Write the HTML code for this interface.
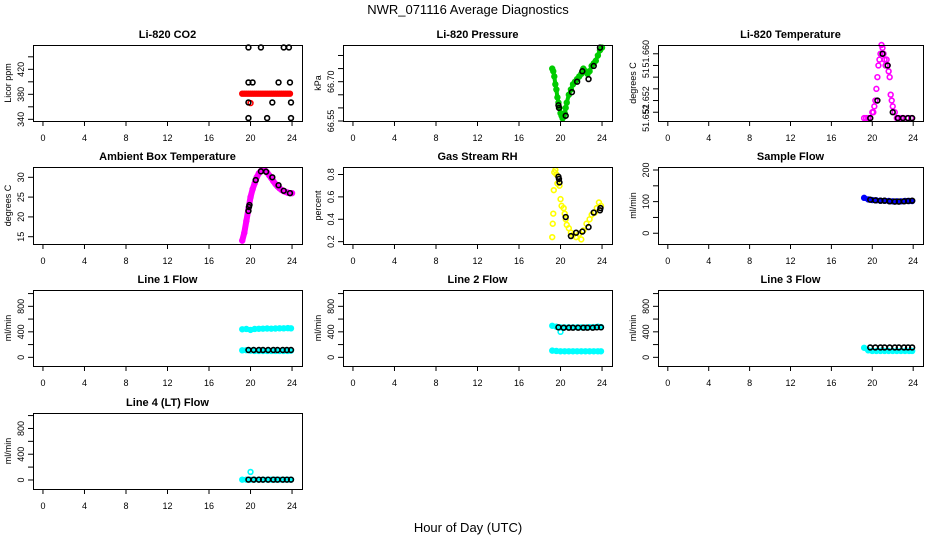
<!DOCTYPE html>
<html><head><meta charset="utf-8"><style>
html,body{margin:0;padding:0;background:#fff}
svg{display:block;font-family:"Liberation Sans",Arial,sans-serif}
</style></head><body>
<svg id="chart" width="936" height="540" viewBox="0 0 936 540" xmlns="http://www.w3.org/2000/svg">
<text x="468" y="14" text-anchor="middle" font-size="13">NWR_071116  Average Diagnostics</text>
<text x="468" y="532" text-anchor="middle" font-size="13">Hour of Day (UTC)</text>
</svg>
<script>
const xTicks = [0,4,8,12,16,20,24];
// CO2
const co2Hours = [19.2,19.4,19.6,19.8,20.0,20.2,20.4,20.6,20.8,21.0,21.2,21.4,21.6,21.8,22.0,22.2,22.4,22.6,22.8,23.0,23.2,23.4,23.6,23.8];
const co2Values = [381,381,381,381,381,381,381,381,381,381,381,381,381,381,381,381,381,381,381,381,381,381,381,381];
const co2OutHours = [20.0];
const co2OutValues = [366];
const co2BlackHours = [19.8,21.0,23.2,23.7,19.8,20.2,22.7,23.8,19.8,22.1,23.9,19.8,21.6,23.9];
const co2BlackValues = [455,455,455,455,399,399,399,399,367,367,367,342,342,342];
// Pressure
const presHours = [19.2,19.3,19.4,19.5,19.6,19.7,19.8,19.9,20.0,20.1,20.2,20.3,20.4,20.5,20.6,20.8,21.0,21.2,21.4,21.6,21.8,22.0,22.2,22.4,22.6,22.8,23.0,23.2,23.4,23.6,23.8,24.0];
const presValues = [66.75,66.74,66.72,66.69,66.67,66.64,66.62,66.60,66.58,66.57,66.56,66.57,66.58,66.60,66.62,66.65,66.67,66.69,66.70,66.71,66.72,66.73,66.75,66.74,66.73,66.74,66.76,66.77,66.78,66.80,66.82,66.83];
const presBlackHours = [19.8,19.85,20.5,21.1,21.6,22.1,22.7,23.2,23.8];
const presBlackValues = [66.61,66.60,66.57,66.66,66.70,66.74,66.71,66.76,66.83];
// Li-820 temperature
const tempHours = [19.2,19.4,19.6,19.8,20.0,20.1,20.2,20.3,20.4,20.5,20.6,20.7,20.8,20.9,21.0,21.1,21.2,21.3,21.4,21.5,21.6,21.7,21.8,21.9,22.0,22.2,22.4,22.6,22.8,23.0,23.4,23.8];
const tempValues = [51.649,51.649,51.649,51.649,51.650,51.650,51.651,51.652,51.654,51.656,51.658,51.659,51.660,51.6615,51.661,51.660,51.659,51.658,51.659,51.658,51.657,51.656,51.653,51.652,51.651,51.650,51.649,51.649,51.649,51.649,51.649,51.649];
const tempBlackHours = [19.8,20.5,21.0,21.5,22.0,22.5,23.0,23.5,23.9];
const tempBlackValues = [51.649,51.652,51.660,51.658,51.650,51.649,51.649,51.649,51.649];
// Ambient box temperature
const ambHours = [19.2,19.4,19.6,19.8,20.0,20.2,20.4,20.6,20.8,21.0,21.2,21.4,21.6,21.8,22.0,22.2,22.4,22.6,22.8,23.0,23.2,23.4,23.6,23.8,24.0];
const ambValues = [14,16,19,22,25,27,28.5,30,31,31.6,31.8,31.7,31.2,30.5,29.8,29,28.3,27.7,27.2,26.8,26.5,26.3,26.1,26.0,26.0];
const ambBlackHours = [19.8,19.85,19.9,20.5,21.0,21.5,22.1,22.7,23.2,23.8];
const ambBlackValues = [21.5,22.5,23,29.3,31.5,31.4,30,28,26.6,26];
// Gas stream RH
const rhHours = [19.2,19.25,19.3,19.35,19.4,19.5,19.6,19.7,19.9,20.0,20.1,20.3,20.4,20.5,20.6,20.8,21.0,21.2,21.5,21.8,22.0,22.2,22.5,22.8,23.0,23.3,23.5,23.7,23.9];
const rhValues = [0.24,0.36,0.45,0.66,0.82,0.84,0.80,0.72,0.70,0.58,0.52,0.50,0.45,0.40,0.35,0.32,0.28,0.26,0.24,0.27,0.22,0.30,0.36,0.40,0.44,0.46,0.50,0.55,0.52];
const rhBlackHours = [19.8,19.85,19.9,20.5,21.0,21.5,22.1,22.7,23.2,23.8,23.85];
const rhBlackValues = [0.78,0.76,0.73,0.42,0.25,0.28,0.29,0.33,0.46,0.48,0.50];
// Sample flow
const sfHours = [19.2,19.6,20.0,20.4,20.8,21.2,21.6,22.0,22.4,22.8,23.2,23.6,23.9];
const sfValues = [112,107,105,104,103,103,102,101,101,101,102,102,102];
const sfBlackHours = [19.8,20.3,20.8,21.2,21.7,22.2,22.6,23.1,23.5,23.9];
const sfBlackValues = [106,104,103,103,101,100,100,101,102,103];
// Line flows
const flowHours = [19.2,19.6,20.0,20.4,20.8,21.2,21.6,22.0,22.4,22.8,23.2,23.6,23.9];
const flowBlackHours = [19.8,20.3,20.8,21.2,21.7,22.2,22.6,23.1,23.5,23.9];
const line1Upper = [440,445,430,445,448,450,452,450,452,455,455,458,455];
const line1Lower = [110,112,105,100,100,100,100,100,100,100,100,100,105];
const line1Black = [115,115,115,115,115,115,115,115,115,115];
const line2Upper = [495,480,470,470,470,470,470,470,470,475,475,480,475];
const line2Lower = [105,100,95,95,95,95,95,95,95,95,95,95,95];
const line2OutHours = [20.0];
const line2OutValues = [400];
const line2Black = [470,465,465,465,465,465,465,465,470,470];
const line3Values = [150,110,100,100,100,100,100,100,100,100,100,100,100];
const line3Black = [155,155,155,155,155,155,155,155,155,155];
const line4Values = [5,5,5,5,5,5,5,5,5,5,5,5,5];
const line4OutHours = [20.0];
const line4OutValues = [125];
const line4Black = [5,5,5,5,5,5,5,5,5,5];

const NS = "http://www.w3.org/2000/svg";
const svg = document.getElementById('chart');
function mk(tag, attrs, parent){const e=document.createElementNS(NS,tag);for(const k in attrs)e.setAttribute(k,attrs[k]);(parent||svg).appendChild(e);return e;}

const cols = [[33,302],[343,612],[658,923]];
const rows = [[45,121],[167,244],[290,366],[413,489]];

const panels = [
 {name:'co2',title:'Li-820 CO2',ylab:'Licor ppm',c:0,r:0,ylim:[337.3,458.9],ticks:[340,360,380,400,420,440],labels:[[340,'340'],[380,'380'],[420,'420']],
  series:[{x:co2Hours,y:co2Values,col:'#ff0000',band:true},{x:co2OutHours,y:co2OutValues,col:'#ff0000'},{x:co2BlackHours,y:co2BlackValues,col:'#000'}]},
 {name:'pressure',title:'Li-820 Pressure',ylab:'kPa',c:1,r:0,ylim:[66.55,66.84],ticks:[66.55,66.60,66.65,66.70,66.75,66.80],labels:[[66.55,'66.55'],[66.70,'66.70']],
  series:[{x:presHours,y:presValues,col:'#00cc00',band:true,bw:4},{x:presBlackHours,y:presBlackValues,col:'#000'}]},
 {name:'li820-temperature',title:'Li-820 Temperature',ylab:'degrees C',c:2,r:0,ylim:[51.6485,51.6615],ticks:[51.650,51.652,51.654,51.656,51.658,51.660],labels:[[51.6490,'51.652'],[51.6521,'51.652'],[51.6567,'51'],[51.6600,'51.660']],
  series:[{x:tempHours,y:tempValues,col:'#ff00ff'},{x:tempBlackHours,y:tempBlackValues,col:'#000'}]},
 {name:'ambient-temperature',title:'Ambient Box Temperature',ylab:'degrees C',c:0,r:1,ylim:[13.16,32.6],ticks:[15,20,25,30],labels:[[15,'15'],[20,'20'],[25,'25'],[30,'30']],
  series:[{x:ambHours,y:ambValues,col:'#ff00ff',band:true,bw:6},{x:ambBlackHours,y:ambBlackValues,col:'#000'}]},
 {name:'gas-stream-rh',title:'Gas Stream RH',ylab:'percent',c:1,r:1,ylim:[0.179,0.867],ticks:[0.2,0.4,0.6,0.8],labels:[[0.2,'0.2'],[0.4,'0.4'],[0.6,'0.6'],[0.8,'0.8']],
  series:[{x:rhHours,y:rhValues,col:'#ffff00'},{x:rhBlackHours,y:rhBlackValues,col:'#000'}]},
 {name:'sample-flow',title:'Sample Flow',ylab:'ml/min',c:2,r:1,ylim:[-34,209.5],ticks:[0,50,100,150,200],labels:[[0,'0'],[100,'100'],[200,'200']],
  series:[{x:sfHours,y:sfValues,col:'#0000ff',band:true},{x:sfBlackHours,y:sfBlackValues,col:'#000'}]},
 {name:'line1-flow',title:'Line 1 Flow',ylab:'ml/min',c:0,r:2,ylim:[-136,1056],ticks:[0,200,400,600,800,1000],labels:[[0,'0'],[400,'400'],[800,'800']],
  series:[{x:flowHours,y:line1Upper,col:'#00ffff',band:true},{x:flowHours,y:line1Lower,col:'#00ffff',band:true},{x:flowBlackHours,y:line1Black,col:'#000'}]},
 {name:'line2-flow',title:'Line 2 Flow',ylab:'ml/min',c:1,r:2,ylim:[-136,1056],ticks:[0,200,400,600,800,1000],labels:[[0,'0'],[400,'400'],[800,'800']],
  series:[{x:flowHours,y:line2Upper,col:'#00ffff',band:true},{x:flowHours,y:line2Lower,col:'#00ffff',band:true},{x:line2OutHours,y:line2OutValues,col:'#00ffff'},{x:flowBlackHours,y:line2Black,col:'#000'}]},
 {name:'line3-flow',title:'Line 3 Flow',ylab:'ml/min',c:2,r:2,ylim:[-136,1056],ticks:[0,200,400,600,800,1000],labels:[[0,'0'],[400,'400'],[800,'800']],
  series:[{x:flowHours,y:line3Values,col:'#00ffff',band:true},{x:flowBlackHours,y:line3Black,col:'#000'}]},
 {name:'line4-flow',title:'Line 4 (LT) Flow',ylab:'ml/min',c:0,r:3,ylim:[-140,1040],ticks:[0,200,400,600,800,1000],labels:[[0,'0'],[400,'400'],[800,'800']],
  series:[{x:flowHours,y:line4Values,col:'#00ffff',band:true},{x:line4OutHours,y:line4OutValues,col:'#00ffff'},{x:flowBlackHours,y:line4Black,col:'#000'}]}
];

panels.forEach(p=>{
  const [L,R]=cols[p.c],[T,B]=rows[p.r];
  const g=mk('g',{});
  
  
  const xs=v=>L+(v+0.96)/25.92*(R-L);
  const ys=v=>B-(v-p.ylim[0])/(p.ylim[1]-p.ylim[0])*(B-T);
  const t=mk('text',{x:(L+R)/2,y:T-7,'text-anchor':'middle','font-size':11,'font-weight':'bold'},g);
  t.textContent=p.title;
  
  
  const dg=mk('g',{},g);
  p.series.forEach(s=>{
    if(s.band){
      const pl=mk('polyline',{points:s.x.map((h,i)=>xs(h)+','+ys(s.y[i])).join(' '),fill:'none',stroke:s.col,'stroke-width':s.bw||5,'stroke-linejoin':'round','stroke-linecap':'round'},dg);
      
      
    }
    s.x.forEach((h,i)=>{
      const c=mk('circle',{cx:xs(h),cy:ys(s.y[i]),r:2.4,fill:'none',stroke:s.col,'stroke-width':1.6},dg);
      
      
    });
  });
  const box=mk('rect',{x:L+0.5,y:T+0.5,width:R-L,height:B-T,fill:'none',stroke:'#000','stroke-width':1},g);
  
  
  const xa=mk('g',{},g);
  
  
  mk('line',{x1:xs(xTicks[0]),x2:xs(xTicks[xTicks.length-1]),y1:B+0.5,y2:B+0.5,stroke:'#000'},xa);
  xTicks.forEach(v=>{
    mk('line',{x1:xs(v),x2:xs(v),y1:B,y2:B+5,stroke:'#000'},xa);
    const tl=mk('text',{x:xs(v),y:B+20,'text-anchor':'middle','font-size':9},xa);
    tl.textContent=v;
    
    
  });
  const ya=mk('g',{},g);
  
  
  mk('line',{x1:L+0.5,x2:L+0.5,y1:ys(p.ticks[0]),y2:ys(p.ticks[p.ticks.length-1]),stroke:'#000'},ya);
  p.ticks.forEach(v=>{mk('line',{x1:L-5,x2:L,y1:ys(v),y2:ys(v),stroke:'#000'},ya);});
  p.labels.forEach(([v,s])=>{
    const yy=ys(v),xx=L-9;
    const tl=mk('text',{x:xx,y:yy,'text-anchor':'middle','font-size':9,transform:`rotate(-90 ${xx} ${yy})`},ya);
    tl.textContent=s;
    
    
  });
  const yx=L-22,yy=(T+B)/2;
  const yl=mk('text',{x:yx,y:yy,'text-anchor':'middle','font-size':9,transform:`rotate(-90 ${yx} ${yy})`},g);
  yl.textContent=p.ylab;
  
  
});
</script>
</body></html>
